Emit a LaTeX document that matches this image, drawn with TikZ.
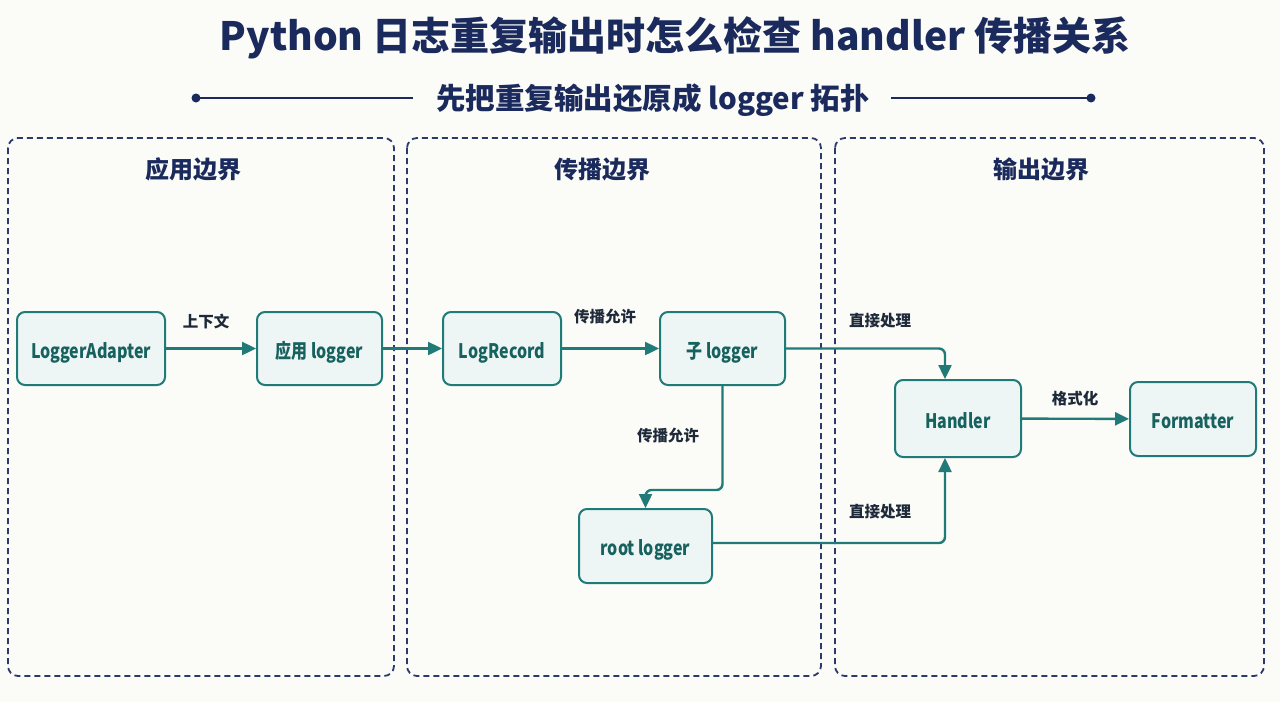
\documentclass[tikz,border=0pt]{standalone}
\usepackage{fontspec}
\setmainfont{Noto Sans CJK SC}
\newfontfamily\nodefont{Noto Sans CJK SC}[FakeStretch=0.8]
\usetikzlibrary{arrows.meta}
\definecolor{bg}{HTML}{FBFBF8}
\definecolor{navy}{HTML}{1B2A5C}
\definecolor{dashnavy}{HTML}{2B3A6B}
\definecolor{teal}{HTML}{1F7A78}
\definecolor{tealtext}{HTML}{17615F}
\definecolor{nodefill}{HTML}{EEF6F5}
\definecolor{labeltext}{HTML}{1E2A3A}
\tikzset{
  panel/.style={draw=dashnavy, line width=1.8pt, dash pattern=on 6pt off 4pt, rounded corners=10pt},
  panelttl/.style={text=navy, font=\fontsize{24}{28}\selectfont\bfseries},
  box/.style={draw=teal, fill=nodefill, line width=2pt, rounded corners=8pt, inner sep=0pt,
    text height=20pt, text depth=1pt,
    text=tealtext, font=\nodefont\fontsize{20}{22}\selectfont\bfseries},
  edge/.style={draw=teal, line width=2.4pt, -{Triangle[length=14pt,width=13pt]}, rounded corners=6pt},
  elabel/.style={text=labeltext, font=\fontsize{15.5}{18}\selectfont\bfseries},
}
\begin{document}
\begin{tikzpicture}[x=1pt,y=-1pt]
\useasboundingbox (0,0) rectangle (1280,702);
\fill[bg] (0,0) rectangle (1280,702);

% title
\node[text=navy, font=\fontsize{39}{44}\selectfont\bfseries] (title) at (675,38) {Python 日志重复输出时怎么检查 handler 传播关系};
\node[text=navy, font=\fontsize{29.5}{34}\selectfont\bfseries] (sub) at (653,100) {先把重复输出还原成 logger 拓扑};
\coordinate (ldot) at (196,98);
\coordinate (lend) at (413,98);
\coordinate (rend) at (891,98);
\coordinate (rdot) at (1091,98);
\draw[navy, line width=2pt] (ldot) -- (lend);
\draw[navy, line width=2pt] (rend) -- (rdot);
\fill[navy] (ldot) circle (4.5);
\fill[navy] (rdot) circle (4.5);

% panels
\draw[panel] (8,138) rectangle (394,676);
\draw[panel] (407,138) rectangle (821,676);
\draw[panel] (835,138) rectangle (1264,676);
\node[panelttl] (p1) at (193,169) {应用边界};
\node[panelttl] (p2) at (602,169) {传播边界};
\node[panelttl] (p3) at (1041,169) {输出边界};

% nodes
\node[box, minimum width=148, minimum height=73] (la) at (91,348.5) {LoggerAdapter};
\node[box, minimum width=125, minimum height=73] (app) at (319.5,348.5) {应用 logger};
\node[box, minimum width=118, minimum height=73] (rec) at (502,348.5) {LogRecord};
\node[box, minimum width=125, minimum height=73] (zi) at (722.5,348.5) {子 logger};
\node[box, minimum width=133, minimum height=74] (root) at (645.5,546) {root logger};
\node[box, minimum width=126, minimum height=77] (h) at (958,418.5) {Handler};
\node[box, minimum width=126, minimum height=74] (f) at (1193,419) {Formatter};

% edges
\draw[edge] (la) -- (app);
\node[elabel] (l1) at (206,321) {上下文};
\draw[edge] (app) -- (rec);
\draw[edge] (rec) -- (zi);
\node[elabel] (l2) at (605,317) {传播允许};
\coordinate (bendy) at (0,490);
\draw[edge] (zi.south) |- (root.north |- bendy) -- (root.north);
\node[elabel] (l3) at (668,436) {传播允许};
\draw[edge] (zi.east) -| ([xshift=-13pt]h.north);
\node[elabel] (l4) at (880,321) {直接处理};
\draw[edge] ([yshift=3pt]root.east) -| ([xshift=-13pt]h.south);
\node[elabel] (l5) at (880,512) {直接处理};
\draw[edge] (h) -- (f);
\node[elabel] (l6) at (1075,399) {格式化};
\end{tikzpicture}
\end{document}
